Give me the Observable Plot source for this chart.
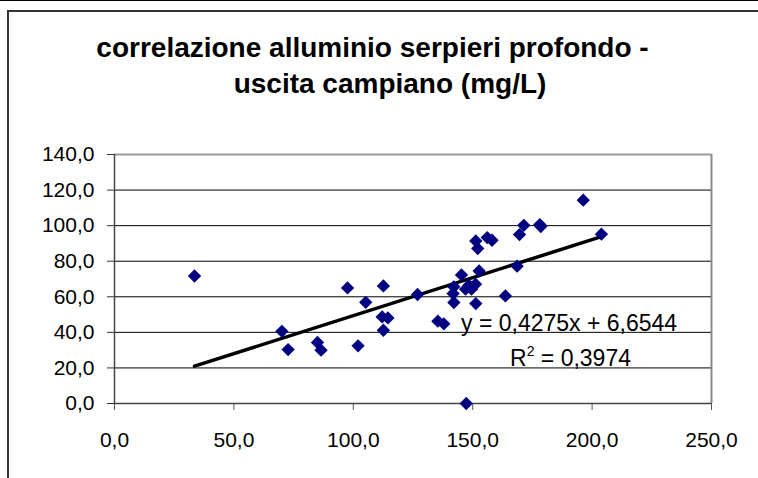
<!DOCTYPE html>
<html>
<head>
<meta charset="utf-8">
<script src="https://cdn.jsdelivr.net/npm/d3@7"></script>
<script src="https://cdn.jsdelivr.net/npm/@observablehq/plot@0.6"></script>
<style>
  html, body { margin: 0; padding: 0; background: #fff; }
  #wrap { position: relative; width: 758px; height: 478px; overflow: hidden; background: #fff;
          font-family: "Liberation Sans", Arial, sans-serif; }
  #topline { position: absolute; left: 0; top: 0; width: 758px; height: 1px; background: #000; }
  #box { position: absolute; left: 7px; top: 10px; width: 800px; height: 500px;
         border-left: 2px solid #333; border-top: 2px solid #333; }
  .title { position: absolute; font-weight: bold; font-size: 28px; line-height: 36px;
           text-align: center; white-space: nowrap; color: #000; }
  #chart { position: absolute; left: 0; top: 130px; }
  .eq { position: absolute; font-size: 23px; line-height: 26px; white-space: nowrap; color: #000; }
</style>
</head>
<body>
<div id="wrap">
  <div id="topline"></div>
  <div id="box"></div>
  <div class="title" id="t1" style="left:0; width:745px; top:30px;"></div>
  <div class="title" id="t2" style="left:0; width:780px; top:66px;"></div>
  <div id="chart"></div>
  <div class="eq" id="eq1" style="left:461px; top:310px;"></div>
  <div class="eq" id="eq2" style="left:510px; top:345px;"></div>
</div>
<script>
// ---- data ----
const titleLines = ["correlazione alluminio serpieri profondo -", "uscita campiano (mg/L)"];
const xValues = [33.5, 70.1, 72.7, 85.0, 86.5, 97.6, 102.0, 105.2, 112.6, 112.1,
                 114.5, 112.6, 126.9, 135.4, 137.9, 142.1, 141.8, 142.1, 148.4, 145.3,
                 147.0, 149.5, 151.2, 152.7, 151.3, 147.3, 151.3, 152.1, 156.1, 158.1,
                 163.7, 168.6, 169.6, 171.4, 178.1, 178.5, 196.3, 203.9];
const yValues = [71.7, 40.6, 30.3, 34.3, 30.0, 65.0, 32.4, 56.9, 66.1, 48.7,
                 48.1, 41.2, 61.3, 46.3, 44.8, 56.8, 61.8, 65.6, 66.5, 72.3,
                 64.3, 64.3, 67.1, 74.5, 56.2, 0.0, 91.4, 87.1, 93.3, 91.8,
                 60.5, 77.2, 95.0, 100.2, 100.6, 99.5, 114.3, 95.2];
const trendSlope = 0.4275;
const trendIntercept = 6.6544;
const rSquared = 0.3974;
const xTicks = [0, 50, 100, 150, 200, 250];
const yTicks = [0, 20, 40, 60, 80, 100, 120, 140];

// ---- derived tables ----
const fmt = d => d.toFixed(1).replace(".", ",");
const fmtN = (d, n) => d.toFixed(n).replace(".", ",");
const points = xValues.map((x, i) => ({x, y: yValues[i]}));
const xExt = d3.extent(xValues);
const trend = xExt.map(x => ({x, y: trendSlope * x + trendIntercept}));

document.getElementById("t1").textContent = titleLines[0];
document.getElementById("t2").textContent = titleLines[1];
document.getElementById("eq1").textContent = `y = ${fmtN(trendSlope, 4)}x + ${fmtN(trendIntercept, 4)}`;
document.getElementById("eq2").innerHTML = `R<sup style="font-size:14px;vertical-align:10px;line-height:0">2</sup> = ${fmtN(rSquared, 4)}`;

const chart = Plot.plot({
  width: 758,
  height: 348,
  marginLeft: 114,
  marginRight: 47,
  marginTop: 24,
  marginBottom: 75,
  x: {domain: [0, 250]},
  y: {domain: [0, 140]},
  style: {fontFamily: "'Liberation Sans', Arial, sans-serif", fontSize: "21px", color: "#000", background: "transparent", overflow: "visible"},
  marks: [
    Plot.gridY(yTicks.filter(d => d > 0 && d < 140), {stroke: "#000", strokeOpacity: 1, strokeWidth: 1}),
    Plot.ruleY([140], {stroke: "#999", strokeWidth: 2}),
    Plot.ruleX([250], {stroke: "#888", strokeWidth: 2}),
    Plot.axisY({ticks: yTicks, tickSize: 7, tickPadding: 13, tickFormat: fmt, label: null,
                stroke: "#333", fontSize: 21}),
    Plot.axisX({ticks: xTicks, tickSize: 7, tickPadding: 22, tickFormat: fmt, label: null,
                stroke: "#555", fontSize: 21}),
    Plot.ruleX([0], {stroke: "#444", strokeWidth: 1.5}),
    Plot.ruleY([0], {stroke: "#444", strokeWidth: 1.5}),
    Plot.line(trend, {x: "x", y: "y", stroke: "#000", strokeWidth: 3.5}),
    Plot.dot(points, {x: "x", y: "y", symbol: "diamond2", r: 6, fill: "#000080", stroke: "none"})
  ]
});
document.getElementById("chart").appendChild(chart);
</script>
</body>
</html>
